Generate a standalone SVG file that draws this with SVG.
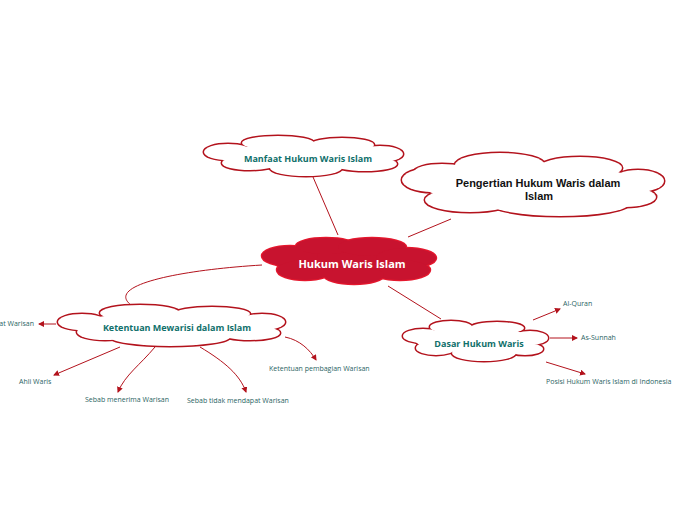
<svg xmlns="http://www.w3.org/2000/svg" xmlns:xlink="http://www.w3.org/1999/xlink" width="696" height="520" viewBox="0 0 696 520">
<style>
.o{fill:#fff;stroke:#b3121c;stroke-width:3}
.f{fill:#fff;stroke:none}
.ro{fill:#c8132f;stroke:#e5182e;stroke-width:2.5}
.rf{fill:#c8132f;stroke:none}
.nt{font-family:"Open Sans","Noto Sans",sans-serif;font-weight:bold;font-size:9px;fill:#10706b;text-anchor:middle}
.ct{font-family:"Open Sans","Noto Sans",sans-serif;font-weight:bold;font-size:11px;fill:#fff;text-anchor:middle}
.pt{font-family:"Liberation Sans",Arial,sans-serif;font-weight:bold;font-size:11px;fill:#111;text-anchor:middle}
.lt{font-family:"Open Sans","Noto Sans",sans-serif;font-size:7px;fill:#2a6464}
.c{fill:none;stroke:#b3121c;stroke-width:1}
.a{fill:none;stroke:#b3121c;stroke-width:1;marker-end:url(#ah)}
</style>
<defs>
<marker id="ah" markerUnits="userSpaceOnUse" markerWidth="7" markerHeight="7" refX="5" refY="3" orient="auto">
<path d="M0,0 L6,3 L0,6 z" fill="#b3121c"/>
</marker>
<g id="s-central">
<ellipse cx="350" cy="262" rx="75" ry="14"/>
<ellipse cx="290" cy="256" rx="28" ry="10"/>
<ellipse cx="326" cy="246" rx="30" ry="8"/>
<ellipse cx="372" cy="247" rx="34" ry="9"/>
<ellipse cx="406" cy="258" rx="30" ry="10"/>
<ellipse cx="400" cy="270" rx="30" ry="10"/>
<ellipse cx="354" cy="275" rx="30" ry="9"/>
<ellipse cx="305" cy="270" rx="28" ry="10"/>
</g>
<g id="s-manfaat">
<ellipse cx="303" cy="156" rx="80" ry="13"/>
<ellipse cx="228" cy="152" rx="24" ry="8"/>
<ellipse cx="278" cy="143" rx="36" ry="7"/>
<ellipse cx="342" cy="145" rx="32" ry="7"/>
<ellipse cx="380" cy="154" rx="23" ry="8"/>
<ellipse cx="250" cy="163" rx="28" ry="7"/>
<ellipse cx="306" cy="168" rx="36" ry="8"/>
<ellipse cx="365" cy="164" rx="32" ry="7"/>
</g>
<g id="s-pengertian">
<ellipse cx="533" cy="185" rx="110" ry="20"/>
<ellipse cx="432" cy="180" rx="30" ry="12"/>
<ellipse cx="442" cy="172" rx="28" ry="8"/>
<ellipse cx="500" cy="165" rx="45" ry="12"/>
<ellipse cx="580" cy="168" rx="42" ry="11"/>
<ellipse cx="638" cy="181" rx="26" ry="11"/>
<ellipse cx="625" cy="197" rx="31" ry="10"/>
<ellipse cx="560" cy="203" rx="70" ry="13"/>
<ellipse cx="470" cy="200" rx="45" ry="12"/>
</g>
<g id="s-ketentuan">
<ellipse cx="172" cy="326" rx="95" ry="14"/>
<ellipse cx="82" cy="322" rx="24" ry="8"/>
<ellipse cx="140" cy="313" rx="40" ry="8"/>
<ellipse cx="212" cy="314" rx="38" ry="7"/>
<ellipse cx="262" cy="322" rx="23" ry="8"/>
<ellipse cx="250" cy="333" rx="30" ry="7"/>
<ellipse cx="170" cy="337" rx="60" ry="9"/>
<ellipse cx="105" cy="332" rx="28" ry="8"/>
</g>
<g id="s-dasar">
<ellipse cx="475" cy="340" rx="60" ry="12"/>
<ellipse cx="423" cy="336" rx="20" ry="7"/>
<ellipse cx="451" cy="327" rx="21" ry="6"/>
<ellipse cx="497" cy="328" rx="27" ry="6"/>
<ellipse cx="530" cy="338" rx="18" ry="7"/>
<ellipse cx="525" cy="349" rx="18" ry="6"/>
<ellipse cx="484" cy="353" rx="32" ry="8"/>
<ellipse cx="436" cy="348" rx="20" ry="7"/>
</g>
</defs>
<rect width="696" height="520" fill="#fff"/>
<g id="connectors">
<path class="c" d="M313,177 L338,235"/>
<path class="c" d="M451,219 L408,237"/>
<path class="c" d="M262,265 C180,270 105,285 131,305"/>
<path class="c" d="M388,286 L441,319"/>
<path class="a" d="M56,324 L39,324"/>
<path class="a" d="M120,347 L54,375"/>
<path class="a" d="M155,347 C140,365 125,375 118,392"/>
<path class="a" d="M200,347 C225,362 240,375 246,392"/>
<path class="a" d="M285,337 C300,340 310,350 316,360"/>
<path class="a" d="M533,320 L560,309"/>
<path class="a" d="M550,338 L577,338"/>
<path class="a" d="M546,362 L585,374"/>
</g>
<g id="node-manfaat">
<use xlink:href="#s-manfaat" class="o"/>
<use xlink:href="#s-manfaat" class="f"/>
<text class="nt" x="308" y="162">Manfaat Hukum Waris Islam</text>
</g>
<g id="node-pengertian">
<use xlink:href="#s-pengertian" class="o"/>
<use xlink:href="#s-pengertian" class="f"/>
<text class="pt" x="538" y="187">Pengertian Hukum Waris dalam</text>
<text class="pt" x="539" y="200">Islam</text>
</g>
<g id="node-central">
<use xlink:href="#s-central" class="ro"/>
<use xlink:href="#s-central" class="rf"/>
<text class="ct" x="352" y="268">Hukum Waris Islam</text>
</g>
<g id="node-ketentuan">
<use xlink:href="#s-ketentuan" class="o"/>
<use xlink:href="#s-ketentuan" class="f"/>
<text class="nt" x="177" y="331">Ketentuan Mewarisi dalam Islam</text>
</g>
<g id="node-dasar">
<use xlink:href="#s-dasar" class="o"/>
<use xlink:href="#s-dasar" class="f"/>
<text class="nt" x="479" y="347">Dasar Hukum Waris</text>
</g>
<g id="leaf-warisan"><text class="lt" x="34" y="326" text-anchor="end">at Warisan</text></g>
<g id="leaf-ahli"><text class="lt" x="19" y="384">Ahli Waris</text></g>
<g id="leaf-menerima"><text class="lt" x="85" y="402">Sebab menerima Warisan</text></g>
<g id="leaf-tidak"><text class="lt" x="187" y="403">Sebab tidak mendapat Warisan</text></g>
<g id="leaf-pembagian"><text class="lt" x="269" y="371">Ketentuan pembagian Warisan</text></g>
<g id="leaf-quran"><text class="lt" x="563" y="306">Al-Quran</text></g>
<g id="leaf-sunnah"><text class="lt" x="581" y="340">As-Sunnah</text></g>
<g id="leaf-posisi"><text class="lt" x="546" y="384">Posisi Hukum Waris Islam di Indonesia</text></g>
</svg>
